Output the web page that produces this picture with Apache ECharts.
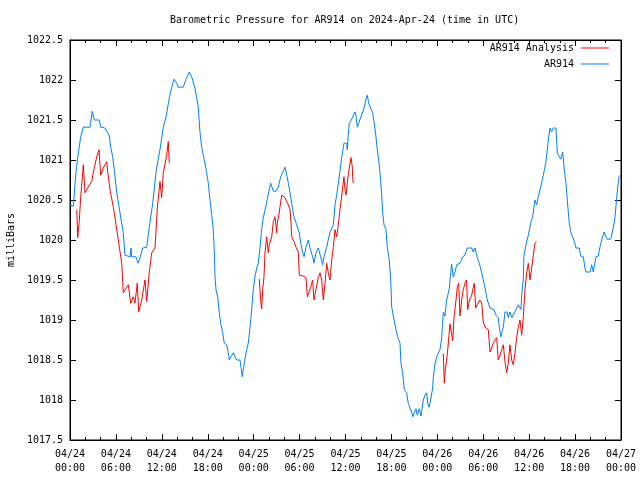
<!DOCTYPE html>
<html>
<head>
<meta charset="utf-8">
<script src="https://cdn.jsdelivr.net/npm/echarts@6/dist/echarts.min.js"></script>
<style>html,body{margin:0;padding:0;background:#fff;}#c{width:640px;height:480px;}</style>
</head>
<body>
<div id="c"></div>
<script>
// Hours since 2024-04-24 00:00 UTC, pressure in milliBars
var xTickLabels = ["04/24\n00:00","04/24\n06:00","04/24\n12:00","04/24\n18:00","04/25\n00:00","04/25\n06:00","04/25\n12:00","04/25\n18:00","04/26\n00:00","04/26\n06:00","04/26\n12:00","04/26\n18:00","04/27\n00:00"];

var stationData = [
[0.0,1020.44],[0.43,1020.42],[0.74,1020.81],[1.05,1021.06],[1.40,1021.29],[1.74,1021.41],[2.61,1021.41],[2.91,1021.61],[3.18,1021.50],[3.83,1021.50],[4.01,1021.41],[4.57,1021.40],[5.14,1021.30],[5.32,1021.16],[5.58,1021.04],[5.81,1020.85],[6.10,1020.60],[6.53,1020.34],[6.96,1020.09],[7.19,1019.81],[7.84,1019.79],[7.97,1019.90],[8.06,1019.79],[8.62,1019.79],[8.89,1019.71],[9.06,1019.75],[9.50,1019.90],[10.02,1019.91],[10.36,1020.16],[10.81,1020.46],[11.24,1020.85],[11.76,1021.13],[12.19,1021.41],[12.54,1021.53],[12.98,1021.78],[13.29,1021.91],[13.59,1022.01],[13.94,1021.96],[14.15,1021.91],[14.80,1021.91],[15.16,1022.01],[15.59,1022.10],[15.90,1022.04],[16.33,1021.90],[16.76,1021.66],[16.99,1021.34],[17.21,1021.16],[17.42,1021.06],[17.64,1020.96],[17.86,1020.84],[18.07,1020.71],[18.29,1020.50],[18.52,1020.31],[18.72,1020.13],[18.86,1019.85],[18.95,1019.54],[19.08,1019.38],[19.30,1019.29],[19.51,1019.09],[19.69,1018.96],[19.95,1018.84],[20.16,1018.71],[20.48,1018.69],[20.68,1018.59],[20.82,1018.50],[21.04,1018.54],[21.34,1018.59],[21.56,1018.54],[21.78,1018.50],[22.21,1018.50],[22.34,1018.41],[22.51,1018.29],[22.74,1018.44],[23.00,1018.59],[23.30,1018.71],[23.52,1018.91],[23.74,1019.13],[23.95,1019.38],[24.17,1019.54],[24.40,1019.65],[24.61,1019.71],[24.83,1019.91],[25.05,1020.13],[25.26,1020.28],[25.61,1020.43],[25.83,1020.54],[26.04,1020.56],[26.22,1020.71],[26.57,1020.61],[26.92,1020.61],[27.22,1020.66],[27.53,1020.79],[27.79,1020.81],[28.09,1020.91],[28.32,1020.81],[28.53,1020.71],[28.75,1020.59],[28.97,1020.46],[29.27,1020.29],[29.62,1020.19],[29.96,1020.09],[30.15,1019.96],[30.41,1019.84],[30.58,1019.79],[30.84,1019.91],[31.14,1020.00],[31.36,1019.90],[31.71,1019.79],[31.88,1019.71],[32.14,1019.84],[32.44,1019.90],[32.76,1019.79],[33.02,1019.69],[33.19,1019.79],[33.54,1019.91],[33.97,1020.10],[34.41,1020.19],[34.63,1020.44],[34.85,1020.56],[35.19,1020.80],[35.50,1021.03],[35.80,1021.21],[36.16,1021.21],[36.23,1021.13],[36.36,1021.31],[36.50,1021.46],[36.81,1021.51],[37.02,1021.53],[37.24,1021.60],[37.37,1021.56],[37.54,1021.41],[37.80,1021.41],[38.02,1021.54],[38.25,1021.60],[38.46,1021.66],[38.64,1021.75],[38.85,1021.81],[39.03,1021.71],[39.29,1021.70],[39.55,1021.59],[39.76,1021.46],[39.98,1021.29],[40.15,1021.13],[40.38,1020.96],[40.51,1020.84],[40.68,1020.63],[40.81,1020.44],[40.86,1020.34],[41.03,1020.19],[41.29,1020.13],[41.46,1019.91],[41.72,1019.75],[41.91,1019.50],[42.04,1019.16],[42.34,1019.00],[42.60,1018.88],[42.82,1018.79],[43.12,1018.71],[43.25,1018.46],[43.47,1018.34],[43.68,1018.13],[43.99,1018.09],[44.20,1017.96],[44.43,1017.90],[44.65,1017.85],[44.78,1017.79],[44.99,1017.81],[45.21,1017.89],[45.38,1017.81],[45.64,1017.89],[45.86,1017.80],[46.17,1018.00],[46.39,1018.06],[46.61,1018.09],[46.74,1017.96],[46.91,1017.91],[47.13,1018.00],[47.39,1018.15],[47.47,1018.28],[47.69,1018.45],[47.99,1018.56],[48.35,1018.63],[48.57,1018.78],[48.78,1019.10],[49.00,1019.05],[49.22,1019.25],[49.56,1019.39],[49.74,1019.59],[49.87,1019.70],[50.08,1019.54],[50.31,1019.60],[50.53,1019.69],[50.96,1019.71],[51.31,1019.79],[51.61,1019.81],[51.91,1019.90],[52.49,1019.90],[52.70,1019.85],[52.92,1019.90],[53.22,1019.78],[53.48,1019.71],[53.80,1019.59],[54.10,1019.46],[54.36,1019.34],[54.53,1019.25],[54.88,1019.15],[55.40,1019.13],[55.66,1019.06],[55.96,1019.03],[56.10,1018.91],[56.28,1018.79],[56.62,1018.91],[56.84,1019.10],[57.14,1019.10],[57.27,1019.03],[57.49,1019.10],[57.76,1019.03],[58.02,1019.04],[58.28,1019.13],[58.58,1019.19],[58.80,1019.21],[58.93,1019.13],[59.02,1019.31],[59.23,1019.50],[59.32,1019.80],[59.58,1019.94],[59.89,1020.06],[60.20,1020.21],[60.46,1020.29],[60.76,1020.50],[60.98,1020.44],[61.19,1020.54],[61.50,1020.66],[61.85,1020.81],[62.20,1020.98],[62.50,1021.25],[62.72,1021.40],[62.94,1021.35],[63.15,1021.40],[63.50,1021.40],[63.59,1021.25],[63.67,1021.09],[63.94,1021.04],[64.12,1021.01],[64.38,1021.10],[64.59,1020.88],[64.81,1020.71],[64.98,1020.50],[65.24,1020.21],[65.46,1020.09],[65.69,1020.04],[65.90,1019.98],[66.12,1019.90],[66.55,1019.90],[66.73,1019.80],[67.07,1019.79],[67.29,1019.65],[67.42,1019.60],[67.95,1019.60],[68.17,1019.69],[68.38,1019.60],[68.73,1019.79],[69.03,1019.80],[69.25,1019.91],[69.48,1020.00],[69.78,1020.10],[70.04,1020.04],[70.21,1020.01],[70.65,1020.01],[70.99,1020.15],[71.21,1020.28],[71.44,1020.53],[71.57,1020.66],[71.74,1020.79],[71.87,1020.81]
];

var analysisSeg1 = [
[0.88,1020.38],[1.01,1020.03],[1.22,1020.25],[1.40,1020.54],[1.66,1020.84],[1.74,1020.94],[1.96,1020.59],[2.18,1020.63],[2.84,1020.73],[3.04,1020.84],[3.49,1021.04],[3.79,1021.13],[4.01,1020.81],[4.35,1020.90],[4.80,1020.98],[4.93,1020.85],[5.23,1020.63],[5.66,1020.41],[5.88,1020.28],[6.31,1020.00],[6.76,1019.71],[6.96,1019.34],[7.62,1019.44],[7.93,1019.21],[8.27,1019.29],[8.49,1019.21],[8.79,1019.46],[8.98,1019.10],[9.37,1019.25],[9.80,1019.50],[10.02,1019.23],[10.36,1019.60],[10.68,1019.84],[11.11,1019.90],[11.41,1020.40],[11.76,1020.73],[11.98,1020.53],[12.19,1020.84],[12.64,1021.06],[12.84,1021.23],[12.98,1020.96]
];
var analysisSeg2 = [
[24.74,1019.51],[24.92,1019.24],[25.05,1019.14],[25.18,1019.38],[25.35,1019.54],[25.48,1019.84],[25.70,1020.04],[25.91,1019.84],[26.04,1019.94],[26.36,1020.04],[26.57,1020.23],[26.79,1020.29],[27.01,1020.09],[27.09,1020.21],[27.35,1020.35],[27.66,1020.56],[27.87,1020.56],[28.09,1020.53],[28.32,1020.48],[28.53,1020.44],[28.75,1020.38],[28.88,1020.21],[28.97,1020.04],[29.27,1019.98],[29.53,1019.91],[29.83,1019.85],[29.96,1019.56],[30.48,1019.55],[30.84,1019.53],[31.01,1019.29],[31.19,1019.34],[31.45,1019.41],[31.71,1019.50],[31.88,1019.25],[32.14,1019.38],[32.44,1019.53],[32.67,1019.59],[32.89,1019.50],[33.10,1019.25],[33.32,1019.46],[33.54,1019.71],[33.75,1019.59],[33.97,1019.50],[34.20,1019.75],[34.41,1019.91],[34.63,1020.13],[34.85,1020.04],[35.06,1020.19],[35.28,1020.38],[35.63,1020.65],[35.80,1020.79],[35.93,1020.63],[36.06,1020.56],[36.23,1020.71],[36.36,1020.81],[36.59,1020.96],[36.72,1021.03],[36.89,1020.91],[36.94,1020.79],[37.02,1020.71]
];
var analysisSeg3 = [
[48.78,1018.58],[48.91,1018.21],[49.04,1018.38],[49.22,1018.50],[49.43,1018.70],[49.65,1018.95],[49.87,1018.94],[50.01,1018.74],[50.18,1019.03],[50.44,1019.25],[50.61,1019.41],[50.79,1019.46],[50.96,1019.05],[51.18,1019.25],[51.39,1019.38],[51.61,1019.46],[51.81,1019.50],[51.97,1019.13],[52.18,1019.24],[52.49,1019.31],[52.70,1019.41],[52.83,1019.46],[53.01,1019.15],[53.22,1019.19],[53.57,1019.25],[53.80,1019.21],[54.00,1018.98],[54.23,1018.91],[54.66,1018.88],[54.88,1018.60],[55.10,1018.65],[55.31,1018.71],[55.76,1018.78],[55.96,1018.50],[56.19,1018.56],[56.41,1018.63],[56.62,1018.69],[56.84,1018.48],[57.06,1018.34],[57.27,1018.46],[57.49,1018.69],[57.72,1018.50],[57.93,1018.44],[58.15,1018.59],[58.37,1018.78],[58.58,1018.91],[58.80,1019.00],[59.02,1018.81],[59.23,1019.03],[59.45,1019.38],[59.68,1019.59],[59.89,1019.71],[60.11,1019.50],[60.33,1019.65],[60.54,1019.81],[60.76,1019.96],[60.98,1019.98]
];

var FONT = 'DejaVu Sans Mono';
var RED = '#ff0000', BLUE = '#0080ff';

var chart = echarts.init(document.getElementById('c'), null, {renderer: 'canvas'});

function lineSeries(name, data, color) {
  return {
    name: name, type: 'line', data: data, xAxisIndex: 0, yAxisIndex: 0,
    symbol: 'none', showSymbol: false, animation: false,
    lineStyle: {color: color, width: 1}, itemStyle: {color: color}
  };
}

var tickCommon = {show: true, inside: true, length: 6, lineStyle: {color: '#000'}};
var minorCommon = {show: true, splitNumber: 3, length: 3, lineStyle: {color: '#000'}};

chart.setOption({
  animation: false,
  backgroundColor: '#fff',
  title: {
    text: 'Barometric Pressure for AR914 on 2024-Apr-24 (time in UTC)',
    left: 165, top: 10,
    textStyle: {fontFamily: FONT, fontSize: 10, fontWeight: 'normal', color: '#000'}
  },
  legend: {
    data: [
      {name: 'AR914 Analysis', icon: 'rect', itemStyle: {color: RED}},
      {name: 'AR914', icon: 'rect', itemStyle: {color: BLUE}}
    ],
    orient: 'vertical', align: 'right',
    right: 26, top: 37, itemGap: 4, itemWidth: 28, itemHeight: 1,
    textStyle: {fontFamily: FONT, fontSize: 10, color: '#000', padding: [0, 2, 0, 0], lineHeight: 12}
  },
  grid: {left: 70, right: 19, top: 40, bottom: 40, containLabel: false, outerBoundsMode: 'none',
         show: true, borderColor: '#000', borderWidth: 1, backgroundColor: 'transparent'},
  xAxis: [{
    type: 'value', min: 0, max: 72, interval: 6, position: 'bottom',
    axisLine: {show: true, onZero: false, lineStyle: {color: '#000'}},
    axisTick: tickCommon, minorTick: minorCommon,
    splitLine: {show: false},
    axisLabel: {
      fontFamily: FONT, fontSize: 10, color: '#000', margin: 7, lineHeight: 14,
      formatter: function (v) { return xTickLabels[Math.round(v / 6)]; }
    }
  }, {
    type: 'value', min: 0, max: 72, interval: 6, position: 'top',
    axisLine: {show: true, onZero: false, lineStyle: {color: '#000'}},
    axisTick: tickCommon, minorTick: minorCommon,
    splitLine: {show: false}, axisLabel: {show: false}
  }],
  yAxis: [{
    type: 'value', min: 1017.5, max: 1022.5, interval: 0.5, position: 'left',
    name: 'milliBars', nameLocation: 'middle', nameGap: 53, nameRotate: 90,
    nameTextStyle: {fontFamily: FONT, fontSize: 10, color: '#000'},
    axisLine: {show: true, onZero: false, lineStyle: {color: '#000'}},
    axisTick: tickCommon, splitLine: {show: false},
    axisLabel: {fontFamily: FONT, fontSize: 10, color: '#000', margin: 7,
      formatter: function (v) { return String(Math.round(v * 10) / 10); }}
  }, {
    type: 'value', min: 1017.5, max: 1022.5, interval: 0.5, position: 'right',
    axisLine: {show: true, onZero: false, lineStyle: {color: '#000'}},
    axisTick: tickCommon, splitLine: {show: false}, axisLabel: {show: false}
  }],
  series: [
    lineSeries('AR914 Analysis', analysisSeg1, RED),
    lineSeries('AR914 Analysis', analysisSeg2, RED),
    lineSeries('AR914 Analysis', analysisSeg3, RED),
    lineSeries('AR914', stationData, BLUE)
  ]
});
</script>
</body>
</html>
